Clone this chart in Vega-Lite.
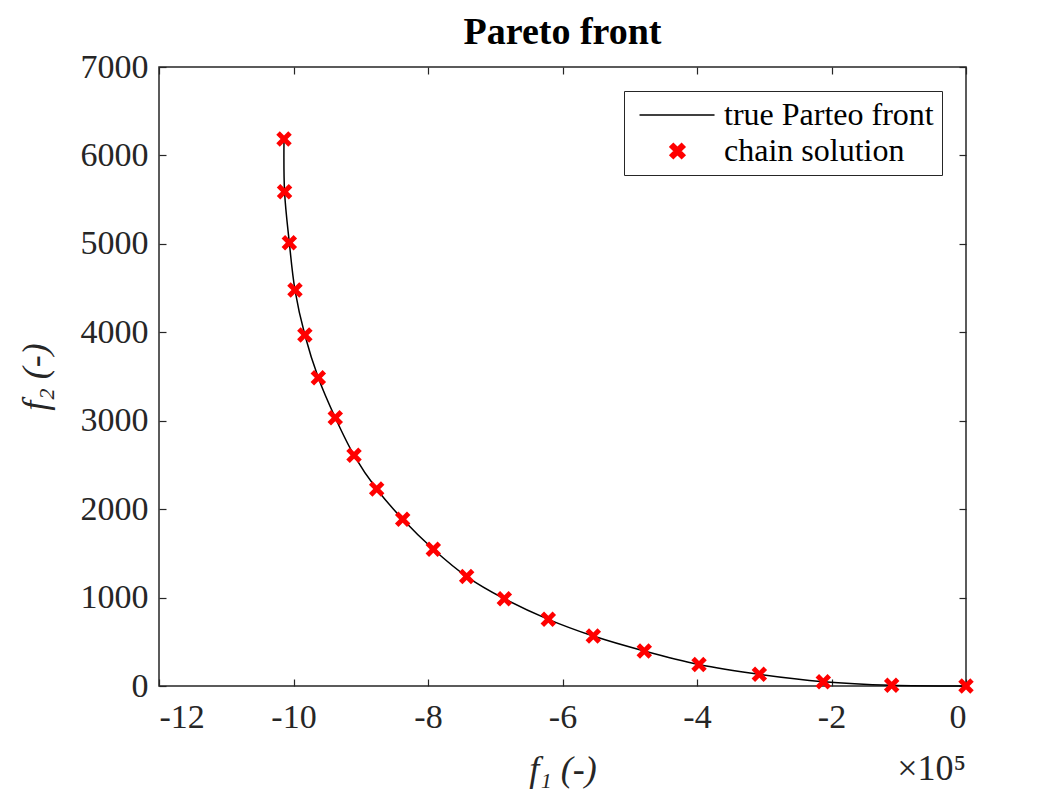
{
  "$schema": "https://vega.github.io/schema/vega-lite/v6.json",
  "width": 807,
  "height": 619,
  "autosize": {"type": "none"},
  "padding": {"left": 159, "top": 67, "right": 79, "bottom": 108},
  "background": "white",
  "config": {
    "view": {"stroke": "#262626", "strokeWidth": 1.5},
    "font": "Liberation Serif",
    "axis": {"grid": false, "domain": false, "tickColor": "#262626", "tickWidth": 1.2, "labelColor": "#262626", "titleColor": "#262626", "labelFont": "Liberation Serif", "titleFont": "Liberation Serif", "labelFontSize": 34, "titleFontSize": 36, "titleFontWeight": "normal"}
  },
  "title": {"text": "Pareto front", "font": "Liberation Serif", "fontSize": 38, "fontWeight": "bold", "color": "black", "anchor": "middle", "baseline": "alphabetic", "offset": -32},
  "datasets": {
    "front": [
      {"f1": -1014100, "f2": 6185, "k": 1, "series": "true Parteo front"},
      {"f1": -1013300, "f2": 5590, "k": 2, "series": "true Parteo front"},
      {"f1": -1006200, "f2": 5013, "k": 3, "series": "true Parteo front"},
      {"f1": -997800, "f2": 4478, "k": 4, "series": "true Parteo front"},
      {"f1": -983100, "f2": 3969, "k": 5, "series": "true Parteo front"},
      {"f1": -963100, "f2": 3486, "k": 6, "series": "true Parteo front"},
      {"f1": -937900, "f2": 3034, "k": 7, "series": "true Parteo front"},
      {"f1": -910000, "f2": 2609, "k": 8, "series": "true Parteo front"},
      {"f1": -876300, "f2": 2228, "k": 9, "series": "true Parteo front"},
      {"f1": -837600, "f2": 1885, "k": 10, "series": "true Parteo front"},
      {"f1": -792100, "f2": 1546, "k": 11, "series": "true Parteo front"},
      {"f1": -742500, "f2": 1238, "k": 12, "series": "true Parteo front"},
      {"f1": -686500, "f2": 987, "k": 13, "series": "true Parteo front"},
      {"f1": -621100, "f2": 754, "k": 14, "series": "true Parteo front"},
      {"f1": -554200, "f2": 565, "k": 15, "series": "true Parteo front"},
      {"f1": -478400, "f2": 396, "k": 16, "series": "true Parteo front"},
      {"f1": -397000, "f2": 243, "k": 17, "series": "true Parteo front"},
      {"f1": -307300, "f2": 132, "k": 18, "series": "true Parteo front"},
      {"f1": -212200, "f2": 49, "k": 19, "series": "true Parteo front"},
      {"f1": -110500, "f2": 8, "k": 20, "series": "true Parteo front"},
      {"f1": 0, "f2": 0, "k": 21, "series": "true Parteo front"}
    ],
    "chain": [
      {"f1": -1014100, "f2": 6185, "series": "chain solution"},
      {"f1": -1013300, "f2": 5590, "series": "chain solution"},
      {"f1": -1006200, "f2": 5013, "series": "chain solution"},
      {"f1": -997800, "f2": 4478, "series": "chain solution"},
      {"f1": -983100, "f2": 3969, "series": "chain solution"},
      {"f1": -963100, "f2": 3486, "series": "chain solution"},
      {"f1": -937900, "f2": 3034, "series": "chain solution"},
      {"f1": -910000, "f2": 2609, "series": "chain solution"},
      {"f1": -876300, "f2": 2228, "series": "chain solution"},
      {"f1": -837600, "f2": 1885, "series": "chain solution"},
      {"f1": -792100, "f2": 1546, "series": "chain solution"},
      {"f1": -742500, "f2": 1238, "series": "chain solution"},
      {"f1": -686500, "f2": 987, "series": "chain solution"},
      {"f1": -621100, "f2": 754, "series": "chain solution"},
      {"f1": -554200, "f2": 565, "series": "chain solution"},
      {"f1": -478400, "f2": 396, "series": "chain solution"},
      {"f1": -397000, "f2": 243, "series": "chain solution"},
      {"f1": -307300, "f2": 132, "series": "chain solution"},
      {"f1": -212200, "f2": 49, "series": "chain solution"},
      {"f1": -110500, "f2": 8, "series": "chain solution"},
      {"f1": 0, "f2": 0, "series": "chain solution"}
    ]
  },
  "layer": [
    {
      "data": {"name": "front"},
      "mark": {"type": "line", "interpolate": "catmull-rom", "strokeWidth": 1.5, "clip": false},
      "encoding": {
        "x": {"field": "f1", "type": "quantitative", "scale": {"domain": [-1200000, 0], "nice": false, "zero": false},
          "axis": {"orient": "bottom", "values": [-1200000, -1000000, -800000, -600000, -400000, -200000, 0], "labelExpr": "'' + (datum.value / 100000)", "tickSize": -7, "labelPadding": 21, "title": "f₁ (-)", "titleFontStyle": "italic", "titlePadding": 18}},
        "y": {"field": "f2", "type": "quantitative", "scale": {"domain": [0, 7000], "nice": false},
          "axis": {"orient": "left", "values": [0, 1000, 2000, 3000, 4000, 5000, 6000, 7000], "format": "d", "tickSize": -7, "labelPadding": 18, "title": "f₂ (-)", "titleFontStyle": "italic", "titlePadding": 26}},
        "order": {"field": "k", "type": "quantitative"},
        "color": {"field": "series", "type": "nominal",
          "scale": {"domain": ["true Parteo front", "chain solution"], "range": ["black", "red"]},
          "legend": {
            "orient": "top-right", "offset": 24, "title": null, "padding": 8,
            "strokeColor": "#262626", "fillColor": "white",
            "labelFont": "Liberation Serif", "labelFontSize": 32, "labelColor": "black", "labelLimit": 0,
            "symbolSize": 225, "labelOffset": 60, "rowPadding": 4,
            "encode": {
              "symbols": {"update": {
                "shape": [
                  {"test": "datum.value === 'chain solution'", "value": "M2.93,-0.55L3.38,-1L3.93,-0.45L4.48,-1L4.93,-0.55L4.38,0L4.93,0.55L4.48,1L3.93,0.45L3.38,1L2.93,0.55L3.48,0Z"},
                  {"value": "M-1.13,0H8.87"}
                ],
                "fill": [
                  {"test": "datum.value === 'chain solution'", "value": "red"},
                  {"value": "transparent"}
                ],
                "stroke": [
                  {"test": "datum.value === 'chain solution'", "value": "transparent"},
                  {"value": "black"}
                ],
                "strokeWidth": {"value": 1.5},
                "opacity": {"value": 1}
              }}
            }
          }}
      }
    },
    {
      "data": {"name": "chain"},
      "mark": {"type": "point", "shape": "M-1,-0.55L-0.55,-1L0,-0.45L0.55,-1L1,-0.55L0.45,0L1,0.55L0.55,1L0,0.45L-0.55,1L-1,0.55L-0.45,0Z", "filled": true, "size": 240, "opacity": 1, "strokeWidth": 0, "clip": false},
      "encoding": {
        "x": {"field": "f1", "type": "quantitative",
          "axis": {"orient": "top", "values": [-1200000, -1000000, -800000, -600000, -400000, -200000, 0], "labels": false, "tickSize": -7, "title": null, "minExtent": 0, "maxExtent": 0}},
        "y": {"field": "f2", "type": "quantitative",
          "axis": {"orient": "right", "values": [0, 1000, 2000, 3000, 4000, 5000, 6000, 7000], "labels": false, "tickSize": -7, "title": null, "minExtent": 0, "maxExtent": 0}},
        "color": {"field": "series", "type": "nominal"}
      }
    },
    {
      "data": {"values": [{"note": "×10⁵"}]},
      "mark": {"type": "text", "font": "Liberation Serif", "fontSize": 36, "align": "right", "baseline": "alphabetic", "dx": 0, "dy": 94, "color": "#262626"},
      "encoding": {
        "x": {"datum": 0, "type": "quantitative", "axis": null},
        "y": {"datum": 0, "type": "quantitative", "axis": null},
        "text": {"field": "note", "type": "nominal"}
      }
    }
  ],
  "resolve": {"axis": {"x": "independent", "y": "independent"}}
}
